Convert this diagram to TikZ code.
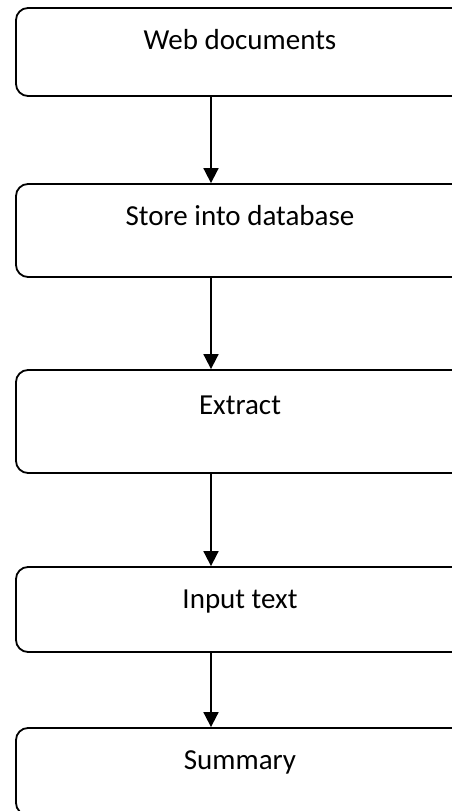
\documentclass[tikz,border=0pt]{standalone}
\usepackage{fontspec}
\setmainfont{Carlito}
\usetikzlibrary{arrows.meta}

\begin{document}
\begin{tikzpicture}[x=1pt,y=1pt,>={Triangle[width=15pt,length=15pt]}, line join=round,
	box/.style={draw, line width=1.8pt, rounded corners=12pt, minimum width=448pt, inner sep=0pt},
	txt/.style={font=\fontsize{29}{34}\selectfont, anchor=base, yshift=-42pt}]
	\def\xa{211} % arrow axis
	\useasboundingbox (0,0) rectangle (452,811);
	\clip (0,0) rectangle (452,811);
	\node[box, minimum height=88pt, label={[txt]north:Web documents}] (web) at (240,759) {};
	\node[box, minimum height=93pt, label={[txt]north:Store into database}] (store) at (240,580.5) {};
	\node[box, minimum height=103pt, label={[txt,yshift=-3pt]north:Extract}] (extract) at (240,389.5) {};
	\node[box, minimum height=85pt, label={[txt]north:Input text}] (input) at (240,201.5) {};
	\node[box, minimum height=87pt, label={[txt]north:Summary}] (summary) at (240,39.5) {};
	\coordinate (ax) at (\xa,0);
	\draw[->, line width=1.8pt] (web.south -| ax) -- (store.north -| ax);
	\draw[->, line width=1.8pt] (store.south -| ax) -- (extract.north -| ax);
	\draw[->, line width=1.8pt] (extract.south -| ax) -- (input.north -| ax);
	\draw[->, line width=1.8pt] (input.south -| ax) -- (summary.north -| ax);
\end{tikzpicture}
\end{document}
